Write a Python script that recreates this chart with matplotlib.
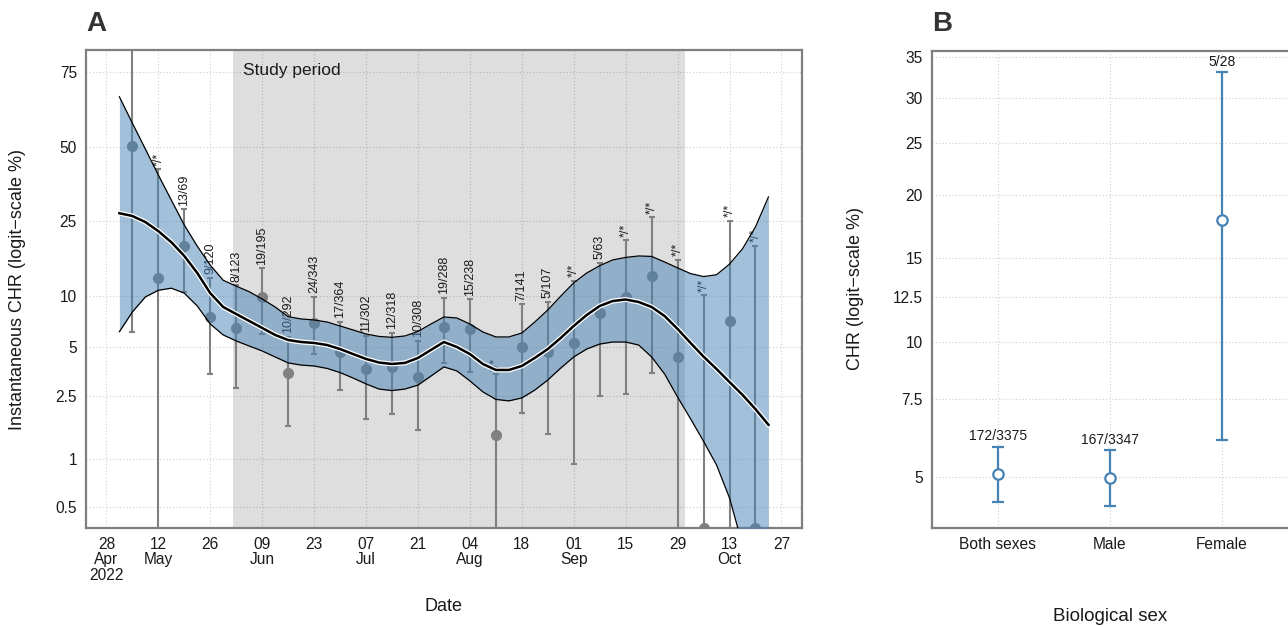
import numpy as np
import pandas as pd
import matplotlib
matplotlib.use("Agg")
import matplotlib.pyplot as plt
import matplotlib.patheffects as pe
from matplotlib.ticker import NullLocator, FixedLocator

plt.rcParams['font.family'] = ['Liberation Sans', 'DejaVu Sans']

# ---------------- data: panel A ----------------
fit_start = '2022-05-01 12:00'
fit_mid = [27.3, 26.5, 24.8, 22.4, 19.7, 16.7, 13.5, 10.4, 8.65, 7.87, 7.16, 6.51, 5.91,
           5.51, 5.36, 5.29, 5.14, 4.86, 4.53, 4.23, 4.02, 3.94, 4.0, 4.29, 4.8, 5.36,
           5.0, 4.53, 3.94, 3.62, 3.62, 3.83, 4.29, 4.86, 5.67, 6.69, 7.77, 8.77, 9.37,
           9.56, 9.25, 8.65, 7.66, 6.42, 5.29, 4.37, 3.67, 3.05, 2.54, 2.07, 1.65]
fit_hi = [67.5, 58.5, 49.1, 39.7, 31.3, 24.0, 18.8, 14.9, 12.3, 11.4, 10.6, 9.63, 8.65,
          7.59, 7.36, 7.26, 7.06, 6.69, 6.33, 5.99, 5.79, 5.72, 5.83, 6.2, 6.87, 7.56,
          7.46, 6.87, 6.16, 5.75, 5.75, 6.07, 7.06, 8.31, 10.0, 11.9, 13.5, 14.8, 15.9,
          16.4, 16.7, 16.6, 15.5, 14.4, 13.4, 12.9, 13.2, 15.1, 18.2, 23.5, 32.3]
fit_lo = [6.18, 8.09, 9.89, 10.8, 11.1, 10.4, 8.77, 6.87, 5.91, 5.44, 5.07, 4.73, 4.35,
          4.0, 3.88, 3.83, 3.7, 3.49, 3.23, 2.97, 2.76, 2.7, 2.76, 2.92, 3.32, 3.78,
          3.57, 3.1, 2.65, 2.38, 2.33, 2.43, 2.72, 3.14, 3.72, 4.35, 4.86, 5.21, 5.36,
          5.36, 5.14, 4.35, 3.42, 2.46, 1.8, 1.3, 0.922, 0.57, 0.287, 0.172, 0.0955]

week_start = '2022-05-05'
week_chr = [50.2, 12.6, 18.9, 7.53, 6.53, 9.85, 3.45, 7.0, 4.68, 3.67, 3.76, 3.29, 6.62,
            6.39, 1.43, 5.02, 4.64, 5.31, 7.95, 9.93, 13.0, 4.37, 0.0, 7.19, 0.0]
week_hi = [97.0, 41.8, 28.5, 12.7, 11.5, 14.3, 5.77, 9.93, 7.09, 5.85, 6.1, 5.44, 9.79,
           9.63, 3.42, 9.01, 9.29, 12.2, 15.4, 20.2, 26.1, 15.9, 10.1, 25.1, 18.9]
week_lo = [6.13, 0.0, 10.5, 3.42, 2.79, 5.99, 1.62, 4.53, 2.72, 1.8, 1.94, 1.53, 4.01,
           3.53, 0.0, 1.97, 1.44, 0.936, 2.51, 2.57, 3.48, 0.0, 0.0, 0.0, 0.0]
week_lab = ['*/*', '*/*', '13/69', '9/120', '8/123', '19/195', '10/292', '24/343', '17/364',
            '11/302', '12/318', '10/308', '19/288', '15/238', '*/*', '7/141', '5/107', '*/*',
            '5/63', '*/*', '*/*', '*/*', '*/*', '*/*', '*/*']

study_period = ('2022-06-01', '2022-10-01')

a_yticks = [0.5, 1, 2.5, 5, 10, 25, 50, 75]
a_yticklabels = ['0.5', '1', '2.5', '5', '10', '25', '50', '75']
a_xticks = ['2022-04-28', '2022-05-12', '2022-05-26', '2022-06-09', '2022-06-23', '2022-07-07',
            '2022-07-21', '2022-08-04', '2022-08-18', '2022-09-01', '2022-09-15', '2022-09-29',
            '2022-10-13', '2022-10-27']
a_xticklabels = ['28\nApr\n2022', '12\nMay', '26', '09\nJun', '23', '07\nJul', '21', '04\nAug',
                 '18', '01\nSep', '15', '29', '13\nOct', '27']

# ---------------- data: panel B ----------------
sex_cat = ['Both sexes', 'Male', 'Female']
sex_chr = [5.10, 4.99, 17.9]
sex_lo = [4.40, 4.29, 6.07]
sex_hi = [5.86, 5.76, 33.1]
sex_lab = ['172/3375', '167/3347', '5/28']
b_yticks = [5, 7.5, 10, 12.5, 15, 20, 25, 30, 35]
b_yticklabels = ['5', '7.5', '10', '12.5', '15', '20', '25', '30', '35']


def fwd(p):
    p = np.clip(np.asarray(p, dtype=float), 1e-5, 100 - 1e-5)
    return np.log(p / (100 - p))


def inv(l):
    return 100.0 / (1.0 + np.exp(-np.asarray(l, dtype=float)))


W, H = 1288, 627
fig = plt.figure(figsize=(W / 100, H / 100), dpi=100)

SPINE = '#7f7f7f'
GRID = '#cfcfcf'
TXT = '#1a1a1a'
BLUE = '#4682B4'


def style_axes(ax):
    for s in ax.spines.values():
        s.set_color(SPINE)
        s.set_linewidth(1.6)
    ax.tick_params(length=0, pad=6.5, labelsize=11.2, labelcolor=TXT)
    ax.grid(True, which='major', color=GRID, linestyle=(0, (1, 2)), linewidth=0.8)
    ax.set_axisbelow(True)


# ================= Panel A =================
axA = fig.add_axes([86 / W, 1 - 527.7 / H, (802 - 86) / W, (527.7 - 50) / H])
axA.set_yscale('function', functions=(fwd, inv))
style_axes(axA)

fit_dates = pd.date_range(fit_start, periods=len(fit_mid), freq='84h')
wk_dates = pd.date_range(week_start, periods=len(week_chr), freq='7D')

ylo_A, yhi_A = 0.369, 80.5
axA.set_ylim(ylo_A, yhi_A)
axA.set_xlim(pd.Timestamp('2022-04-22 12:00'), pd.Timestamp('2022-11-01 13:00'))

axA.axvspan(pd.Timestamp(study_period[0]), pd.Timestamp(study_period[1]),
            color='black', alpha=0.13, lw=0, zorder=1)

pt = np.maximum(np.array(week_chr), ylo_A)
lo = np.array(week_lo)
hi = np.array(week_hi)
axA.errorbar(wk_dates, pt, yerr=[pt - np.maximum(lo, 1e-4), hi - pt], fmt='o',
             color='#808080', ecolor='#808080', ms=7, elinewidth=1.5, capsize=2,
             capthick=1.5, zorder=2)

for d, h, lab in zip(wk_dates, hi, week_lab):
    axA.annotate(lab, xy=(d, h), xytext=(0, 2.5), textcoords='offset points',
                 rotation=90, ha='center', va='bottom', fontsize=9, color=TXT,
                 zorder=3, annotation_clip=True, clip_on=True)

axA.fill_between(fit_dates, fit_lo, fit_hi, color=BLUE, alpha=0.5, lw=0, zorder=4)
axA.plot(fit_dates, fit_lo, color='black', lw=0.9, zorder=5)
axA.plot(fit_dates, fit_hi, color='black', lw=0.9, zorder=5)
axA.plot(fit_dates, fit_mid, color='black', lw=1.8, zorder=6,
         path_effects=[pe.Stroke(linewidth=3.6, foreground='white'), pe.Normal()])

axA.yaxis.set_major_locator(FixedLocator(a_yticks))
axA.yaxis.set_minor_locator(NullLocator())
axA.set_yticklabels(a_yticklabels)
axA.set_xticks(pd.to_datetime(a_xticks))
axA.set_xticklabels(a_xticklabels, linespacing=1.05)
axA.xaxis.set_minor_locator(NullLocator())

axA.annotate('Study period', xy=(pd.Timestamp(study_period[0]), 0.958),
             xycoords=('data', 'axes fraction'), xytext=(7.5, 0),
             textcoords='offset points', ha='left', va='center', fontsize=12.5,
             color=TXT, zorder=7)

fig.text(444 / W, 1 - 606.7 / H, 'Date', ha='center', va='center', fontsize=13, color=TXT)
fig.text(18 / W, 1 - 289 / H, 'Instantaneous CHR (logit\u2212scale %)', rotation=90,
         ha='center', va='center', fontsize=13, color=TXT)
fig.text(86 / W, 1 - 24 / H, 'A', ha='left', va='center', fontsize=20,
         fontweight='bold', color='#333333')

# ================= Panel B =================
axB = fig.add_axes([931.7 / W, 1 - 527.7 / H, (1290 - 931.7) / W, (527.7 - 50.7) / H])
axB.set_yscale('function', functions=(fwd, inv))
style_axes(axB)
axB.spines['right'].set_visible(False)
axB.set_ylim(3.83, 35.76)
xpos = np.arange(len(sex_cat))
axB.set_xlim(-0.589, 2.607)

sc = np.array(sex_chr)
axB.errorbar(xpos, sc, yerr=[sc - np.array(sex_lo), np.array(sex_hi) - sc], fmt='o',
             color=BLUE, ecolor=BLUE, mfc='white', mec=BLUE, mew=1.6, ms=7.5,
             elinewidth=1.6, capsize=4, capthick=1.6, zorder=3)
for x, h, lab in zip(xpos, sex_hi, sex_lab):
    axB.annotate(lab, xy=(x, h), xytext=(0, 2.5), textcoords='offset points',
                 ha='center', va='bottom', fontsize=10, color=TXT, zorder=4)

axB.yaxis.set_major_locator(FixedLocator(b_yticks))
axB.yaxis.set_minor_locator(NullLocator())
axB.set_yticklabels(b_yticklabels)
axB.set_xticks(xpos)
axB.set_xticklabels(sex_cat)

fig.text(1110 / W, 1 - 616.7 / H, 'Biological sex', ha='center', va='center',
         fontsize=13.5, color=TXT)
fig.text(855 / W, 1 - 289 / H, 'CHR (logit\u2212scale %)', rotation=90,
         ha='center', va='center', fontsize=13, color=TXT)
fig.text(932 / W, 1 - 24 / H, 'B', ha='left', va='center', fontsize=20,
         fontweight='bold', color='#333333')

fig.savefig('out.png', dpi=100)
